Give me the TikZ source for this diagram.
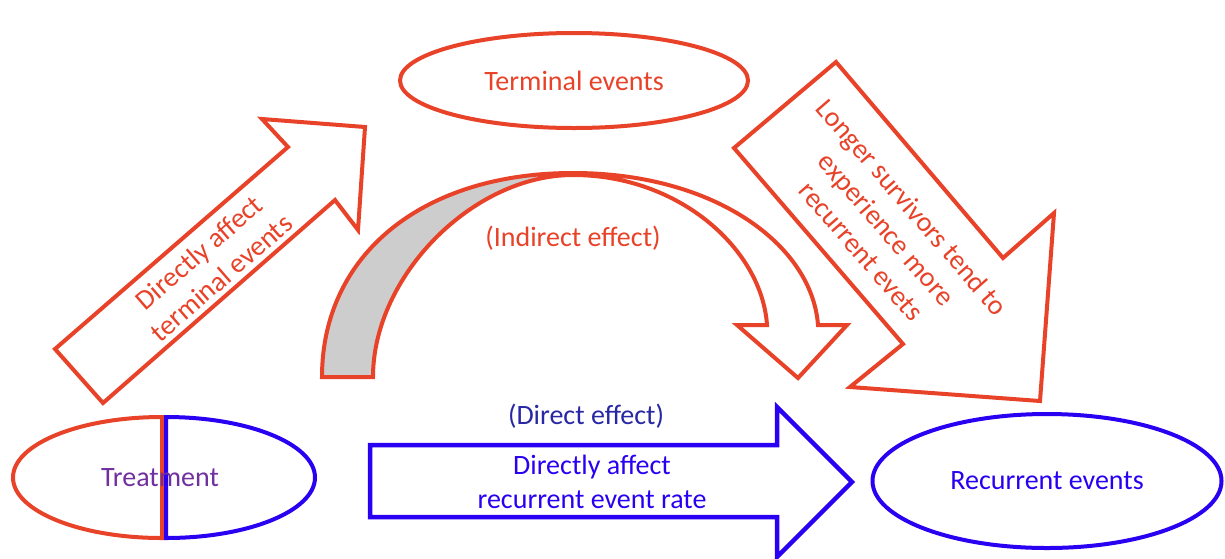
\documentclass[tikz,border=0pt]{standalone}
\usepackage{fontspec}
\setmainfont{Carlito}
\usetikzlibrary{shapes.geometric}
\definecolor{rd}{RGB}{232,66,40}
\definecolor{bl}{RGB}{42,0,242}
\definecolor{nv}{RGB}{40,40,165}
\definecolor{pu}{RGB}{112,48,160}
\definecolor{gr}{RGB}{205,205,205}
\begin{document}
\begin{tikzpicture}[x=1pt,y=-1pt,
  lbl/.style={font=\fontsize{28}{33.6}\selectfont, align=center, inner sep=0pt},
  redline/.style={draw=rd, line width=4pt},
  blueline/.style={draw=bl, line width=4.5pt},
  oval/.style={ellipse, line width=4pt, inner sep=0pt, font=\fontsize{28}{33.6}\selectfont}]
\fill[white] (0,0) rectangle (1225,558);
\useasboundingbox (0,0) rectangle (1225,558);

% ellipses
\node[oval, draw=rd, text=rd, minimum width=348pt, minimum height=95pt] (term) at (574,80.5) {Terminal events};
\node[oval, draw=bl, text=bl, minimum width=349pt, minimum height=134pt] (rec) at (1047,481) {Recurrent events};

% treatment split ellipse
\draw[redline] (162,417) arc[start angle=90, end angle=270, x radius=149pt, y radius=60.5pt] -- cycle;
\draw[blueline, line width=4pt] (166,417) arc[start angle=90, end angle=-90, x radius=149pt, y radius=60.5pt] -- cycle;
\node[lbl, text=pu] (treat) at (160,478) {Treatment};

% up-right arrow
\draw[redline] (55,349) -- (288,147) -- (262,119) -- (365,127) -- (358,230) -- (335,200) -- (103,403) -- cycle;
\node[lbl, text=rd, rotate=41] (dterm) at (210,265) {Directly affect\\terminal events};

% down-right arrow
\draw[redline] (836,62) -- (1003,258) -- (1054,213) -- (1040,401) -- (850,387) -- (903,344) -- (734,148) -- cycle;
\node[lbl, text=rd, rotate=-49] (longer) at (887,229) {Longer survivors tend to\\experience more\\recurrent evets};

% blue arrow
\draw[blueline] (370,445) -- (777,445) -- (777,407) -- (852,482) -- (777,557) -- (777,517) -- (370,517) -- cycle;
\node[lbl, text=bl] (drec) at (592,482) {Directly affect\\recurrent event rate};
\node[lbl, text=nv] (direct) at (586,416) {(Direct effect)};

% curved arrow
\fill[gr] (322,377) .. controls (322,255) and (422,173) .. (573,173) .. controls (473,175) and (373,276) .. (373,377) -- cycle;
\draw[redline] (322,377) .. controls (322,255) and (422,173) .. (573,173) .. controls (715,173) and (812,245) .. (818,325) -- (847,325) -- (798,378) -- (737,325) -- (767,325) .. controls (762,250) and (680,175) .. (573,175) .. controls (473,175) and (373,276) .. (373,377) -- cycle;
\node[lbl, text=rd] (indirect) at (573,238) {(Indirect effect)};
\end{tikzpicture}
\end{document}
